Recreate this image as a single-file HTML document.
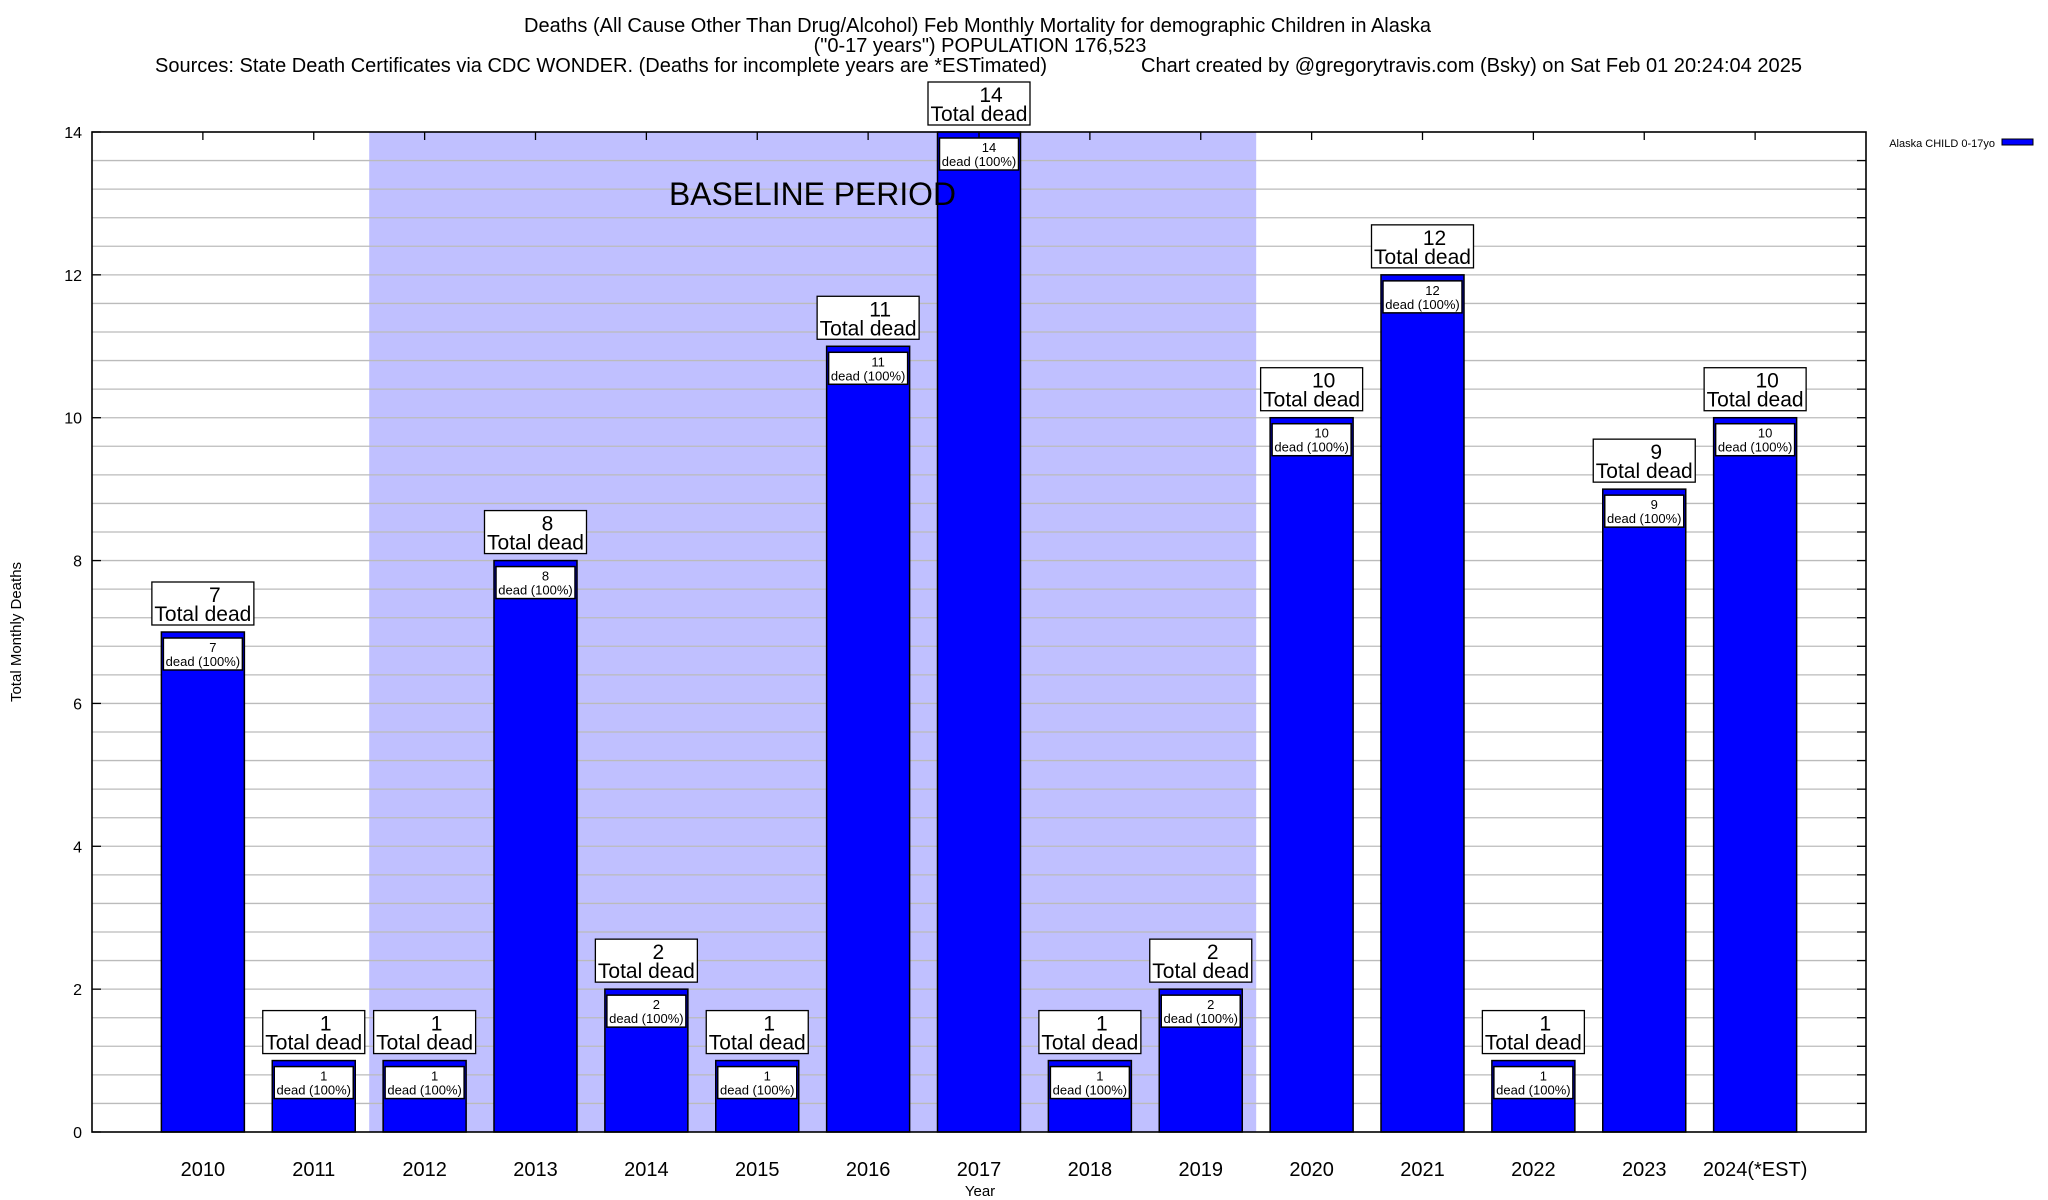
<!DOCTYPE html>
<html><head><meta charset="utf-8"><style>
html,body{margin:0;padding:0;background:#fff}
svg{display:block;font-family:"Liberation Sans",Arial,sans-serif}
</style></head><body>
<svg id="chart" width="2048" height="1200" viewBox="0 0 2048 1200" xmlns="http://www.w3.org/2000/svg">
<g>
<text x="524" y="32" font-size="20" textLength="907" lengthAdjust="spacingAndGlyphs">Deaths (All Cause Other Than Drug/Alcohol) Feb Monthly Mortality for demographic Children in Alaska</text>
<text x="980" y="52" font-size="20" text-anchor="middle">("0-17 years") POPULATION 176,523</text>
<text x="155" y="72" font-size="20" textLength="892" lengthAdjust="spacingAndGlyphs">Sources: State Death Certificates via CDC WONDER. (Deaths for incomplete years are *ESTimated)</text>
<text x="1141" y="72" font-size="20" textLength="661" lengthAdjust="spacingAndGlyphs">Chart created by @gregorytravis.com (Bsky) on Sat Feb 01 20:24:04 2025</text>
</g>
<g id="plot"></g>
<g>
<text x="1995" y="147" font-size="11" text-anchor="end">Alaska CHILD 0-17yo</text>
<rect x="2002" y="139" width="31" height="6" fill="#0000ff" stroke="#000" stroke-width="1"/>
</g>
<text x="980" y="1196" font-size="15" text-anchor="middle">Year</text>
<text transform="translate(21,632) rotate(-90)" font-size="15" text-anchor="middle">Total Monthly Deaths</text>
</svg>
<script>
const categories = ["2010","2011","2012","2013","2014","2015","2016","2017","2018","2019","2020","2021","2022","2023","2024(*EST)"];
const deaths = [7,1,1,8,2,1,11,14,1,2,10,12,1,9,10];
const yTicks = [0,2,4,6,8,10,12,14];
const baselineStart = 2; // index of first baseline category
const baselineEnd = 9;   // index of last baseline category

const NS="http://www.w3.org/2000/svg";
const L=92,R=1866,T=132,B=1132,yMax=14;
const pitch=(R-L)/16;
const xc=i=>L+(i+1)*pitch;
const ys=v=>B-(v/yMax)*(B-T);
const g=document.getElementById('plot');
function mk(tag,attrs,parent){const e=document.createElementNS(NS,tag);for(const k in attrs)e.setAttribute(k,attrs[k]);(parent||g).appendChild(e);return e;}

// baseline shading
const sh=mk('rect',{x:xc(baselineStart)-pitch/2,y:T,width:(baselineEnd-baselineStart+1)*pitch,height:B-T,fill:'#c0c0ff'});



// gridlines every 0.4
for(let k=1;k<35;k++){const v=k*0.4;const y=ys(v);
const gl=mk('line',{x1:L,x2:R,y1:y,y2:y,stroke:'#bbbbbb','stroke-width':1.3});


mk('line',{x1:R-9,x2:R,y1:y,y2:y,stroke:'#000','stroke-width':1.3});
}
yTicks.forEach(v=>{const t=mk('text',{x:82,y:ys(v)+6,'font-size':16,'text-anchor':'end'});t.textContent=v;


mk('line',{x1:L,x2:L+9,y1:ys(v),y2:ys(v),stroke:'#000','stroke-width':1.3});});

categories.forEach((c,i)=>{
const x=xc(i),v=deaths[i],w=83,top=ys(v);
const bar=mk('rect',{x:x-w/2,y:top,width:w,height:B-top,fill:'#0000ff',stroke:'#000','stroke-width':1.5});


mk('line',{x1:x,x2:x,y1:T,y2:T+8,stroke:'#000','stroke-width':1.3});
const ib=mk('rect',{x:x-w/2+2,y:top+6,width:w-4,height:32,fill:'#fff',stroke:'#000','stroke-width':1.5});


const t1=mk('text',{x:x+10,y:top+20,'font-size':13,'text-anchor':'middle'});t1.textContent=v;


const t2=mk('text',{x:x,y:top+34,'font-size':13,'text-anchor':'middle'});t2.textContent='dead (100%)';


const ob=mk('rect',{x:x-51,y:top-50,width:102,height:43,fill:'#fff',stroke:'#000','stroke-width':1.3});


const o1=mk('text',{x:x+12,y:top-30,'font-size':21,'text-anchor':'middle'});o1.textContent=v;


const o2=mk('text',{x:x,y:top-11,'font-size':21,'text-anchor':'middle'});o2.textContent='Total dead';


const xl=mk('text',{x:x,y:1176,'font-size':20,'text-anchor':'middle'});xl.textContent=c;


});
const bt=mk('text',{x:669,y:205,'font-size':32,textLength:287,lengthAdjust:'spacingAndGlyphs'});
bt.textContent='BASELINE PERIOD';


const fr=mk('rect',{x:L,y:T,width:R-L,height:B-T,fill:'none',stroke:'#000','stroke-width':1.6});


</script>
</body></html>
